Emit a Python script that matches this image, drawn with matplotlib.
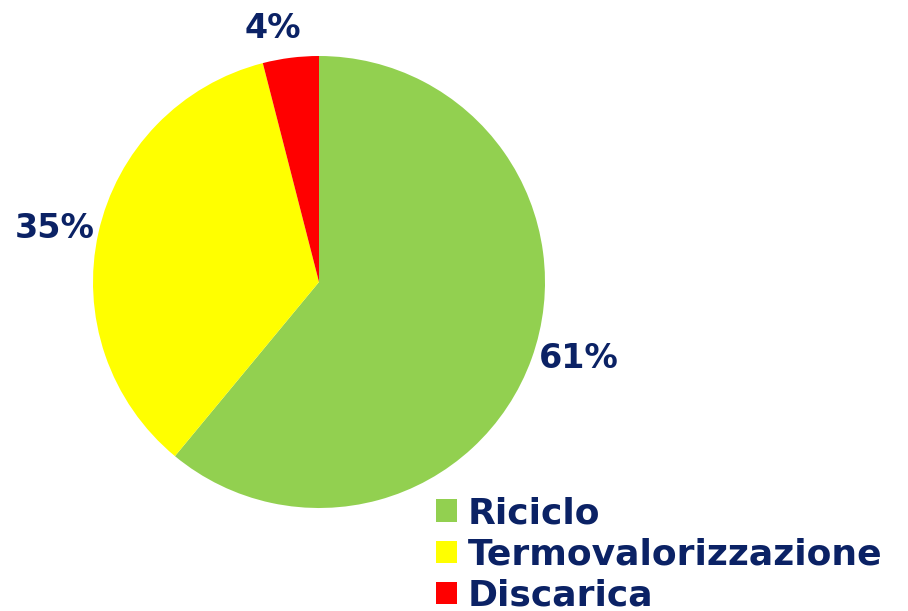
import matplotlib
matplotlib.use('Agg')
import matplotlib.pyplot as plt
from matplotlib.patches import Patch

# data
categories = ['Riciclo', 'Termovalorizzazione', 'Discarica']
shares = [61, 35, 4]
colors = ['#92d050', '#ffff00', '#ff0000']
navy = '#0b2265'

W, H = 908, 611
fig = plt.figure(figsize=(W / 100, H / 100), dpi=100)
ax = fig.add_axes([0, 0, 1, 1])

wedges, texts, autotexts = ax.pie(
    shares, colors=colors, startangle=90, counterclock=False,
    center=(319, H - 282), radius=226, frame=True,
    autopct='%1.0f%%', pctdistance=1.19,
    textprops=dict(color=navy, fontsize=24, fontweight='bold'))
# nudge labels to where they sit in the original
label_pos = [(579, H - 358), (55, H - 228), (273, H - 28)]
for t, p in zip(autotexts, label_pos):
    t.set_position(p)
ax.set_xlim(0, W)
ax.set_ylim(0, H)
ax.set_aspect('equal')
ax.axis('off')

handles = [Patch(facecolor=c, edgecolor='none') for c in colors]
leg = fig.legend(handles, categories, loc='lower left',
                 bbox_to_anchor=(411 / W, -27 / H), frameon=False,
                 prop=dict(size=26, weight='bold'),
                 handlelength=0.58, handleheight=0.58,
                 handletextpad=0.3, labelspacing=0.2, borderpad=0.2)
for t in leg.get_texts():
    t.set_color(navy)

fig.savefig('out.png', dpi=100, facecolor='white')
